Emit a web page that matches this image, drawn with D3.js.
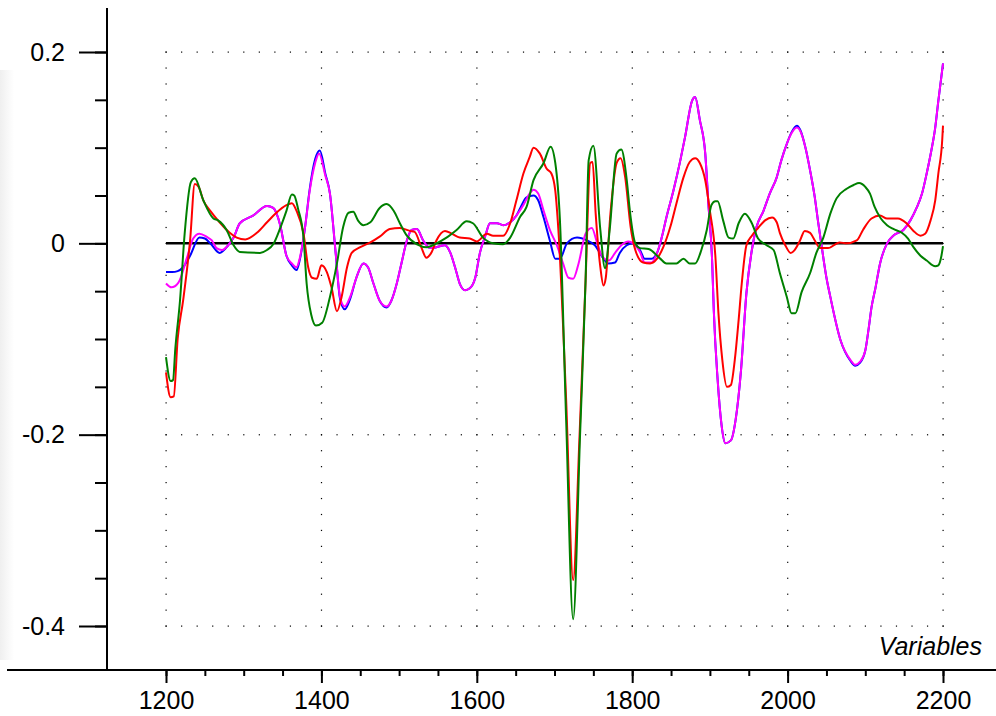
<!DOCTYPE html>
<html>
<head>
<meta charset="utf-8">
<script src="https://cdn.jsdelivr.net/npm/d3@7"></script>
<style>
  html, body { margin: 0; padding: 0; background: #fff; }
  svg { display: block; }
  text { font-family: "Liberation Sans", Arial, sans-serif; }
</style>
</head>
<body>
<div id="chart"></div>
<script>
// ---- Data (wavenumber, loading) ----
const xTicksMajor = [1200, 1400, 1600, 1800, 2000, 2200];
const yTicksMajor = [0.2, 0, -0.2, -0.4];
const yTickLabels = ["0.2", "0", "-0.2", "-0.4"];
const xAxisTitle = "Variables";

const blueSeries = [[1200,-0.030],[1208,-0.030],[1215,-0.029],[1222,-0.025],[1231,-0.013],[1243,0.006],[1250,0.005],[1257,0.000],[1269,-0.010],[1280,-0.002],[1287,0.006],[1295,0.021],[1312,0.029],[1330,0.039],[1338,0.037],[1347,0.019],[1355,-0.013],[1362,-0.023],[1368,-0.028],[1372,-0.018],[1379,0.017],[1385,0.057],[1392,0.088],[1398,0.097],[1405,0.073],[1411,0.052],[1418,-0.007],[1424,-0.058],[1430,-0.069],[1437,-0.058],[1445,-0.036],[1454,-0.021],[1460,-0.025],[1467,-0.042],[1475,-0.060],[1484,-0.067],[1490,-0.060],[1497,-0.042],[1503,-0.021],[1510,0.003],[1516,0.014],[1523,0.015],[1531,0.003],[1540,-0.005],[1548,-0.004],[1559,-0.002],[1566,-0.010],[1572,-0.025],[1578,-0.042],[1585,-0.049],[1591,-0.047],[1598,-0.036],[1604,-0.010],[1611,0.008],[1617,0.021],[1626,0.021],[1634,0.019],[1643,0.022],[1651,0.029],[1656,0.037],[1664,0.048],[1673,0.050],[1679,0.045],[1686,0.027],[1694,0.003],[1701,-0.016],[1707,-0.016],[1716,0.000],[1729,0.006],[1742,0.003],[1752,-0.002],[1763,-0.016],[1769,-0.021],[1778,-0.020],[1784,-0.010],[1793,-0.002],[1801,0.000],[1810,-0.007],[1816,-0.016],[1825,-0.016],[1832,-0.010],[1838,0.006],[1844,0.027],[1853,0.055],[1862,0.087],[1868,0.111],[1877,0.149],[1881,0.153],[1887,0.129],[1894,0.094],[1898,0.042],[1903,-0.021],[1905,-0.070],[1910,-0.143],[1915,-0.190],[1920,-0.209],[1927,-0.206],[1933,-0.185],[1940,-0.133],[1947,-0.052],[1954,-0.007],[1960,0.017],[1969,0.034],[1977,0.052],[1986,0.069],[1992,0.087],[1999,0.104],[2005,0.116],[2012,0.123],[2016,0.119],[2023,0.100],[2029,0.076],[2035,0.048],[2039,0.024],[2044,-0.004],[2050,-0.036],[2055,-0.056],[2068,-0.101],[2081,-0.123],[2087,-0.128],[2093,-0.125],[2100,-0.112],[2104,-0.091],[2108,-0.067],[2113,-0.047],[2119,-0.021],[2128,0.000],[2136,0.008],[2149,0.014],[2158,0.024],[2166,0.037],[2173,0.052],[2179,0.073],[2185,0.097],[2190,0.121],[2194,0.149],[2200,0.188]];

const magentaSeries = [[1200,-0.042],[1207,-0.046],[1216,-0.041],[1227,-0.015],[1235,0.005],[1243,0.010],[1252,0.007],[1259,0.003],[1265,-0.005],[1272,-0.007],[1280,-0.002],[1287,0.006],[1295,0.021],[1312,0.029],[1330,0.039],[1338,0.037],[1347,0.019],[1355,-0.013],[1362,-0.021],[1368,-0.025],[1372,-0.016],[1379,0.017],[1385,0.055],[1392,0.084],[1397,0.094],[1405,0.071],[1411,0.052],[1418,-0.007],[1424,-0.056],[1430,-0.066],[1437,-0.056],[1445,-0.036],[1454,-0.021],[1460,-0.025],[1467,-0.042],[1475,-0.060],[1484,-0.066],[1490,-0.060],[1497,-0.042],[1503,-0.021],[1510,0.003],[1516,0.014],[1523,0.015],[1531,0.003],[1540,-0.005],[1548,-0.004],[1559,-0.002],[1566,-0.010],[1572,-0.025],[1578,-0.042],[1585,-0.049],[1591,-0.047],[1598,-0.036],[1604,-0.010],[1611,0.008],[1617,0.021],[1626,0.021],[1634,0.019],[1643,0.022],[1651,0.029],[1660,0.040],[1668,0.052],[1673,0.056],[1679,0.052],[1686,0.034],[1694,0.014],[1703,-0.002],[1711,-0.021],[1718,-0.036],[1724,-0.037],[1731,-0.021],[1740,0.010],[1748,0.016],[1755,0.000],[1761,-0.013],[1770,-0.018],[1778,-0.010],[1786,-0.002],[1795,0.002],[1804,-0.002],[1810,-0.009],[1816,-0.020],[1825,-0.020],[1832,-0.010],[1838,0.006],[1844,0.027],[1853,0.055],[1862,0.087],[1868,0.111],[1877,0.149],[1881,0.153],[1887,0.129],[1894,0.094],[1898,0.042],[1903,-0.021],[1905,-0.070],[1910,-0.143],[1915,-0.190],[1920,-0.209],[1927,-0.206],[1933,-0.185],[1940,-0.133],[1947,-0.052],[1954,-0.007],[1960,0.017],[1969,0.034],[1977,0.052],[1986,0.069],[1992,0.087],[1999,0.104],[2005,0.115],[2012,0.121],[2016,0.118],[2023,0.100],[2029,0.076],[2035,0.048],[2039,0.024],[2044,-0.004],[2050,-0.036],[2055,-0.056],[2068,-0.101],[2081,-0.122],[2087,-0.127],[2093,-0.124],[2100,-0.112],[2104,-0.091],[2108,-0.067],[2113,-0.047],[2119,-0.021],[2128,0.000],[2136,0.008],[2149,0.014],[2158,0.024],[2166,0.037],[2173,0.052],[2179,0.073],[2185,0.097],[2190,0.121],[2194,0.149],[2200,0.188]];

const redSeries = [[1200,-0.135],[1206,-0.161],[1210,-0.160],[1215,-0.100],[1222,-0.060],[1231,0.003],[1237,0.062],[1242,0.059],[1248,0.045],[1257,0.034],[1269,0.022],[1282,0.011],[1291,0.006],[1302,0.004],[1317,0.011],[1330,0.022],[1342,0.032],[1355,0.040],[1362,0.042],[1368,0.034],[1377,0.010],[1383,-0.025],[1388,-0.036],[1394,-0.037],[1400,-0.023],[1407,-0.030],[1413,-0.046],[1420,-0.071],[1426,-0.056],[1433,-0.025],[1439,-0.010],[1450,-0.004],[1463,0.001],[1475,0.007],[1488,0.015],[1501,0.016],[1514,0.013],[1520,0.012],[1529,-0.005],[1535,-0.015],[1542,-0.009],[1548,0.003],[1559,0.013],[1568,0.010],[1578,0.006],[1591,0.005],[1600,0.002],[1613,0.010],[1621,0.008],[1634,0.008],[1643,0.021],[1651,0.045],[1660,0.073],[1668,0.090],[1673,0.100],[1681,0.094],[1690,0.078],[1696,0.073],[1701,0.055],[1705,0.014],[1715,-0.164],[1724,-0.352],[1732,-0.206],[1740,-0.039],[1746,0.084],[1749,0.085],[1753,0.031],[1759,-0.025],[1763,-0.044],[1766,-0.036],[1772,0.031],[1780,0.084],[1785,0.089],[1791,0.069],[1798,0.017],[1804,-0.007],[1814,-0.020],[1823,-0.021],[1832,-0.016],[1840,-0.004],[1849,0.017],[1857,0.042],[1866,0.069],[1874,0.085],[1881,0.089],[1887,0.084],[1894,0.066],[1900,0.034],[1907,-0.013],[1911,-0.073],[1916,-0.122],[1922,-0.150],[1927,-0.148],[1932,-0.122],[1937,-0.080],[1941,-0.042],[1947,-0.002],[1954,0.008],[1962,0.016],[1971,0.024],[1980,0.027],[1986,0.022],[1990,0.011],[1997,-0.002],[2004,-0.010],[2009,-0.007],[2016,0.003],[2022,0.013],[2029,0.011],[2035,0.003],[2042,-0.005],[2052,-0.005],[2067,0.001],[2076,0.000],[2089,0.003],[2097,0.014],[2108,0.026],[2119,0.029],[2128,0.026],[2142,0.026],[2153,0.021],[2162,0.013],[2171,0.008],[2177,0.010],[2184,0.024],[2190,0.045],[2194,0.073],[2199,0.108],[2200,0.123]];

const greenSeries = [[1200,-0.119],[1206,-0.144],[1209,-0.143],[1212,-0.110],[1218,-0.060],[1224,0.010],[1232,0.064],[1237,0.068],[1248,0.045],[1261,0.026],[1267,0.024],[1278,0.014],[1287,-0.002],[1295,-0.009],[1321,-0.010],[1330,-0.007],[1338,-0.001],[1347,0.016],[1355,0.034],[1362,0.051],[1365,0.050],[1370,0.036],[1377,0.006],[1381,-0.042],[1387,-0.075],[1393,-0.086],[1401,-0.083],[1411,-0.056],[1420,-0.021],[1428,0.017],[1435,0.032],[1441,0.033],[1447,0.024],[1454,0.019],[1463,0.022],[1475,0.037],[1484,0.041],[1493,0.034],[1501,0.021],[1510,0.008],[1523,-0.001],[1536,-0.004],[1548,0.000],[1561,0.006],[1574,0.014],[1587,0.023],[1595,0.021],[1608,0.006],[1621,0.000],[1634,-0.001],[1643,0.006],[1656,0.028],[1664,0.038],[1673,0.066],[1686,0.084],[1695,0.101],[1701,0.084],[1707,0.024],[1715,-0.185],[1724,-0.393],[1733,-0.198],[1740,-0.039],[1744,0.087],[1750,0.102],[1759,0.014],[1765,-0.026],[1771,0.014],[1780,0.094],[1786,0.098],[1793,0.066],[1797,0.034],[1804,0.000],[1810,-0.005],[1821,-0.006],[1836,-0.016],[1844,-0.021],[1857,-0.021],[1866,-0.016],[1874,-0.021],[1881,-0.021],[1889,-0.007],[1896,0.014],[1902,0.040],[1907,0.044],[1910,0.044],[1917,0.024],[1924,0.006],[1930,0.005],[1937,0.021],[1945,0.031],[1954,0.021],[1962,0.005],[1973,-0.002],[1982,-0.007],[1990,-0.031],[1999,-0.056],[2005,-0.073],[2010,-0.073],[2018,-0.051],[2029,-0.031],[2037,-0.010],[2046,0.006],[2055,0.031],[2063,0.047],[2076,0.057],[2085,0.061],[2092,0.063],[2100,0.059],[2106,0.052],[2112,0.038],[2120,0.026],[2128,0.019],[2136,0.015],[2147,0.011],[2155,0.005],[2162,-0.004],[2171,-0.013],[2179,-0.018],[2190,-0.024],[2194,-0.023],[2198,-0.013],[2200,-0.003]];

const seriesList = [
  { data: blueSeries, color: "#0000ff" },
  { data: magentaSeries, color: "#ff00ff" },
  { data: redSeries, color: "#ff0000" },
  { data: greenSeries, color: "#008000" }
];

// ---- Layout ----
const W = 996, H = 716;
const axisX = 107, axisY = 670;
const x = d3.scaleLinear().domain([1200, 2200]).range([166, 943]);
const y = d3.scaleLinear().domain([-0.4, 0.2]).range([626, 52]);

const svg = d3.select("#chart").append("svg").attr("width", W).attr("height", H);

// faint left shading
const defs = svg.append("defs");
const grad = defs.append("linearGradient").attr("id", "lg").attr("x1", 0).attr("x2", 1);
grad.append("stop").attr("offset", 0).attr("stop-color", "#efefef");
grad.append("stop").attr("offset", 1).attr("stop-color", "#ffffff");
svg.append("rect").attr("x", 0).attr("y", 70).attr("width", 14).attr("height", 590).attr("fill", "url(#lg)");

// ---- Dotted grid ----
const grid = svg.append("g");
const [y0, y1] = [y.domain()[0], y.domain()[1]];
yTicksMajor.filter(v => v !== 0).forEach(v => {
  d3.range(1200, 2200.01, 20).forEach(xv => {
    grid.append("rect").attr("x", x(xv) - 0.5).attr("y", y(v) - 0.5)
      .attr("width", 1.2).attr("height", 1.2).attr("fill", "#000");
  });
});
xTicksMajor.forEach(xv => {
  d3.range(0, 36.01, 1).forEach(i => {
    const v = y0 + i * (y1 - y0) / 36;
    grid.append("rect").attr("x", x(xv) - 0.5).attr("y", y(v) - 0.5)
      .attr("width", 1.2).attr("height", 1.2).attr("fill", "#000");
  });
});

// ---- Zero line ----
svg.append("line").attr("x1", x(1200)).attr("x2", x(2200))
  .attr("y1", y(0)).attr("y2", y(0))
  .attr("stroke", "#000").attr("stroke-width", 2.5);

// ---- Series ----
const line = d3.line().x(d => x(d[0])).y(d => y(d[1])).curve(d3.curveMonotoneX);
seriesList.forEach(s => {
  svg.append("path").datum(s.data).attr("d", line)
    .attr("fill", "none").attr("stroke", s.color)
    .attr("stroke-width", 2).attr("stroke-linejoin", "round");
});

// ---- Axes ----
const fontSize = 25;
const yMinor = d3.range(-0.4, 0.2001, 0.05).map(v => +v.toFixed(2));
svg.append("g").attr("transform", `translate(${axisX},0)`)
  .call(d3.axisLeft(y).tickValues(yMinor).tickSize(12).tickFormat(""))
  .call(g => g.select(".domain").remove())
  .call(g => g.selectAll("line").attr("stroke-width", 2));
svg.append("g").attr("transform", `translate(${axisX},0)`)
  .call(d3.axisLeft(y).tickValues(yTicksMajor).tickSize(28).tickPadding(14)
    .tickFormat((d, i) => yTickLabels[i]))
  .call(g => g.select(".domain").remove())
  .call(g => g.selectAll("line").attr("stroke-width", 2))
  .call(g => g.selectAll("text").attr("font-size", fontSize)
    .attr("font-family", "Liberation Sans, Arial, sans-serif").attr("fill", "#000"));

const xMinor = d3.range(1200, 2200.01, 50);
svg.append("g").attr("transform", `translate(0,${axisY})`)
  .call(d3.axisBottom(x).tickValues(xMinor).tickSize(6).tickFormat(""))
  .call(g => g.select(".domain").remove())
  .call(g => g.selectAll("line").attr("stroke-width", 2));
svg.append("g").attr("transform", `translate(0,${axisY})`)
  .call(d3.axisBottom(x).tickValues(xTicksMajor).tickSize(13).tickPadding(8)
    .tickFormat(d3.format("d")))
  .call(g => g.select(".domain").remove())
  .call(g => g.selectAll("line").attr("stroke-width", 2))
  .call(g => g.selectAll("text").attr("font-size", fontSize)
    .attr("font-family", "Liberation Sans, Arial, sans-serif").attr("fill", "#000"));

// axis lines
svg.append("line").attr("x1", axisX).attr("x2", axisX).attr("y1", 8).attr("y2", axisY + 1)
  .attr("stroke", "#000").attr("stroke-width", 2);
svg.append("line").attr("x1", 7).attr("x2", W).attr("y1", axisY).attr("y2", axisY)
  .attr("stroke", "#000").attr("stroke-width", 2);

// axis title
svg.append("text").attr("x", 982).attr("y", 655).attr("text-anchor", "end")
  .attr("font-size", fontSize).attr("font-style", "italic").attr("fill", "#000")
  .text(xAxisTitle);
</script>
</body>
</html>
